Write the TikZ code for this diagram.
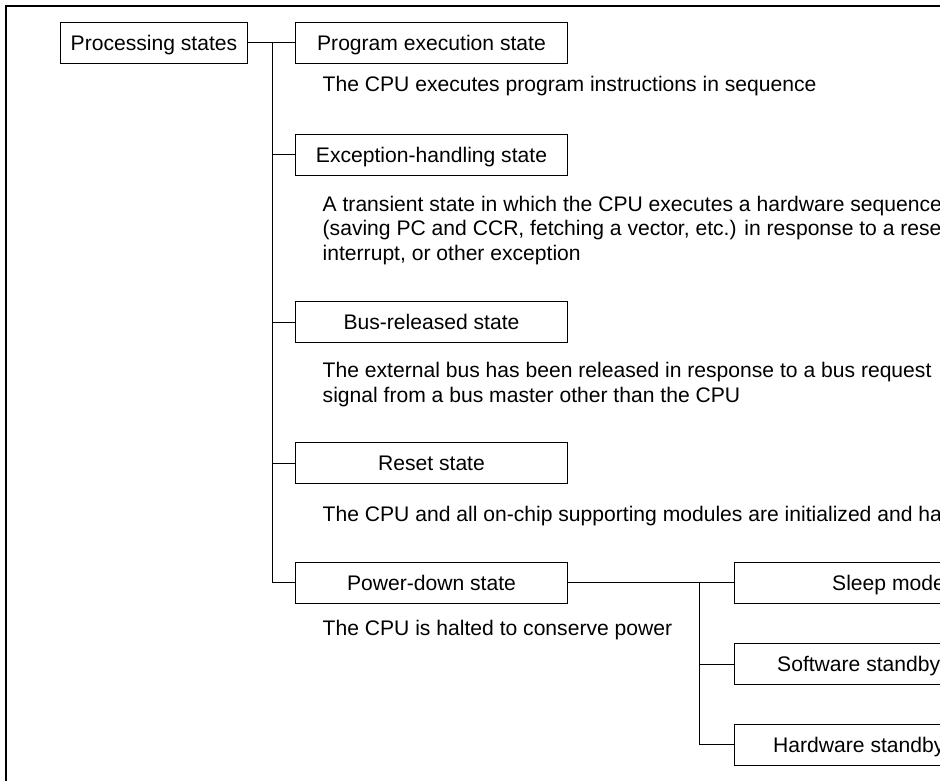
\documentclass[tikz,border=0pt]{standalone}
\usepackage{fontspec}
\setmainfont{Liberation Sans}

\begin{document}
\begin{tikzpicture}[x=1pt,y=-1pt,-,font=\fontsize{21.1}{24.5}\selectfont,
  statebox/.style={draw,line width=1pt,minimum width=272pt,minimum height=41pt,inner sep=0pt,text height=15pt,text depth=0pt},
  modebox/.style={statebox,minimum width=307pt},
  boxtext/.style={inner sep=0pt,text height=15pt,text depth=0pt,anchor=west},
  desc/.style={inner sep=0pt,align=left,anchor=base west},
  link/.style={line width=1pt}]
  \clip (0,0) rectangle (940,781);
  %frame
  \draw[line width=2pt] (6,800) -- (6,6) -- (960,6);
  %states
  \node[statebox,minimum width=187pt] (proc) at (154,43) {Processing states};
  \node[statebox] (prog) at (431.5,43) {Program execution state};
  \node[statebox] (exc) at (431.5,155) {Exception-handling state};
  \node[statebox] (bus) at (431.5,322) {Bus-released state};
  \node[statebox] (reset) at (431.5,463) {Reset state};
  \node[statebox] (pd) at (431.5,582.5) {Power-down state};
  %descriptions (base = last line)
  \node[desc] (progd) at (322.5,92) {The CPU executes program instructions in sequence};
  \node[desc] (excd) at (322.5,260) {A transient state in which the CPU executes a hardware sequence\\
    (saving PC and CCR, fetching a vector, etc.) in response to a rese\\
    interrupt, or other exception};
  \node[desc] (busd) at (322.5,402) {The external bus has been released in response to a bus request\\
    signal from a bus master other than the CPU};
  \node[desc] (resetd) at (322.5,521) {The CPU and all on-chip supporting modules are initialized and ha};
  \node[desc] (pdd) at (322.5,635) {The CPU is halted to conserve power};
  %power-down modes
  \node[modebox] (sleep) at (888,582.5) {};
  \node[modebox] (sw) at (888,664) {};
  \node[modebox] (hw) at (888,744.5) {};
  \node[boxtext] (sleept) at (832,582.5) {Sleep mode};
  \node[boxtext] (swt) at (777,664) {Software standby};
  \node[boxtext] (hwt) at (773,744.5) {Hardware standby};
  %connectors
  \coordinate (trunk) at (272,43);
  \coordinate (fork) at (699,582.5);
  \draw[link] (proc) -- (prog);
  \foreach \s in {exc,bus,reset,pd}
    \draw[link] (trunk) |- (\s.west);
  \draw[link] (pd) -- (sleep);
  \foreach \s in {sw,hw}
    \draw[link] (fork) |- (\s.west);
\end{tikzpicture}
\end{document}
